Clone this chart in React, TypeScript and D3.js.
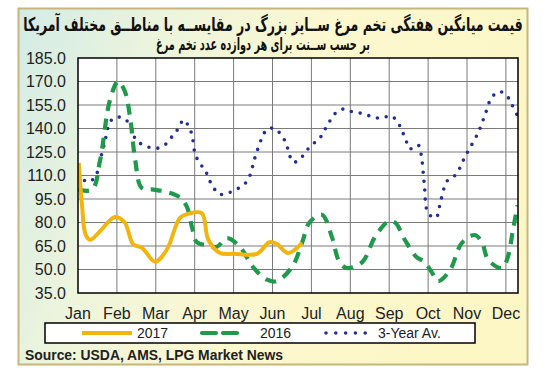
import React, { useLayoutEffect, useRef, useState } from "react";
import * as d3 from "d3";

const W = 545;
const H = 381;

const titleLine1 = "قیمت میانگین هفتگی تخم مرغ ســایز بزرگ در مقایســه با مناطــق مختلف آمریکا";
const titleLine2 = "بر حسب ســنت برای هر دوازده عدد تخم مرغ";
const sourceText = "Source: USDA, AMS, LPG Market News";

const months = ["Jan", "Feb", "Mar", "Apr", "May", "Jun", "Jul", "Aug", "Sep", "Oct", "Nov", "Dec"];
const yTicks = [35, 50, 65, 80, 95, 110, 125, 140, 155, 170, 185];

const seriesNames = ["2017", "2016", "3-Year Av."];

// x = position in months (0 = Jan gridline)
const pos2017 = [0.02, 0.1, 0.2, 0.32, 0.55, 0.95, 1.2, 1.42, 1.64, 1.98, 2.28, 2.62, 2.83, 3.18, 3.35, 3.65, 4.0, 4.6, 4.92, 5.1, 5.4, 5.76];
const val2017 = [118, 92, 72, 69, 74, 83.5, 80, 66, 64, 55, 62.5, 83, 85.5, 86, 69, 60.5, 60, 60, 67.5, 66.5, 60.5, 67];

const pos2016 = [0, 0.36, 0.57, 0.82, 1.03, 1.2, 1.34, 1.47, 1.64, 1.94, 2.28, 2.62, 2.8, 2.93, 3.05, 3.31, 3.57, 3.83, 4.16, 4.5, 4.86, 5.1, 5.5, 5.76, 5.95, 6.27, 6.53, 6.7, 6.9, 7.3, 7.63, 7.97, 8.15, 8.4, 8.7, 8.9, 9.1, 9.25, 9.56, 9.87, 10.2, 10.38, 10.55, 10.9, 11.05, 11.18, 11.3];
const val2016 = [101, 101, 120, 158, 170, 164, 147, 120, 102, 101, 99.5, 96, 90, 77, 67.5, 65.5, 64.5, 70, 64.5, 51.5, 43.5, 42.5, 51.5, 67, 80, 85, 70.5, 56, 51, 54.5, 70.5, 80.5, 80, 69, 58, 55, 48, 42.5, 49.5, 67, 72, 67.5, 56, 51, 58, 75, 91];

const posAvg = [0.03, 0.22, 0.43, 0.57, 0.69, 0.82, 0.95, 1.18, 1.34, 1.5, 1.83, 2.06, 2.28, 2.45, 2.58, 2.71, 2.83, 2.93, 3.0, 3.12, 3.27, 3.35, 3.48, 3.63, 3.87, 4.1, 4.3, 4.42, 4.55, 4.73, 4.86, 5.05, 5.22, 5.35, 5.42, 5.53, 5.71, 5.86, 6.04, 6.22, 6.35, 6.48, 6.63, 6.84, 7.07, 7.33, 7.56, 7.79, 8.05, 8.23, 8.33, 8.43, 8.53, 8.74, 8.82, 8.9, 9.0, 9.2, 9.33, 9.49, 9.67, 9.82, 9.92, 10.05, 10.28, 10.46, 10.64, 10.85, 11.05, 11.16, 11.28];
const valAvg = [111.5, 106, 108.5, 120, 131.5, 144, 147, 146.5, 142, 132.5, 128, 127.5, 130.5, 136, 140, 145.5, 142, 136, 125, 118, 113.5, 108.5, 102.5, 98, 99, 101.5, 105, 110, 121.5, 134, 139.5, 140, 136, 130.5, 124.5, 118.5, 120.5, 125.5, 130, 134, 139.5, 145, 150, 152.5, 150.5, 149.5, 147.5, 146.5, 148, 143.5, 138.5, 132.5, 127, 129.5, 123.5, 105, 86, 83, 94.5, 106.5, 109.5, 115, 120.5, 126.5, 137, 148.5, 160, 163.5, 160, 155, 149];

const plot = { left: 78, right: 518, top: 58, bottom: 293 };
const monthStep = 38.9;

const x = d3.scaleLinear().domain([0, (plot.right - plot.left) / monthStep]).range([plot.left, plot.right]);
const y = d3.scaleLinear().domain([35, 185]).range([plot.bottom, plot.top]);

const line = d3
  .line<[number, number]>()
  .x((d) => x(d[0]))
  .y((d) => y(d[1]))
  .curve(d3.curveCatmullRom.alpha(0.5));

const zip = (a: number[], b: number[]) => a.map((v, i) => [v, b[i]] as [number, number]);

const C2017 = "#f2b50f";
const C2016 = "#1e9a4a";
const CAVG = "#232f96";

const arabicFont = "'DejaVu Sans Condensed', 'DejaVu Sans', sans-serif";

function FitText(props: { text: string; cx: number; y: number; width: number; fontSize: number }) {
  const ref = useRef<SVGTextElement>(null);
  const [sx, setSx] = useState(1);
  useLayoutEffect(() => {
    if (ref.current) {
      const w = ref.current.getBBox().width;
      if (w > 0) setSx(props.width / w);
    }
  }, [props.text, props.width]);
  return (
    <g transform={`translate(${props.cx},${props.y}) scale(${sx},1)`}>
      <text ref={ref} x={0} y={0} textAnchor="middle" fontFamily={arabicFont} fontWeight="bold" fontSize={props.fontSize} direction="rtl" fill="#111">
        {props.text}
      </text>
    </g>
  );
}

export default function App() {
  const sansFont = "'Liberation Sans', Arial, sans-serif";
  return (
    <svg width={W} height={H} style={{ position: "absolute", left: 0, top: 0 }} fontFamily={sansFont}>
      <defs>
        <linearGradient id="bg" x1="0" y1="0" x2="1" y2="0.25">
          <stop offset="0" stopColor="#d3ebe6" />
          <stop offset="0.3" stopColor="#eef5dc" />
          <stop offset="0.6" stopColor="#fcf8cf" />
          <stop offset="1" stopColor="#fdf7c6" />
        </linearGradient>
        <clipPath id="plotClip">
          <rect x={plot.left} y={plot.top} width={plot.right - plot.left} height={plot.bottom - plot.top} />
        </clipPath>
      </defs>
      <rect x={0} y={0} width={W} height={H} fill="#ffffff" />
      <rect x={18.5} y={8.5} width={509} height={356} fill="url(#bg)" stroke="#c8b57a" strokeWidth={2} />

      <FitText text={titleLine1} cx={273} y={31} width={500} fontSize={19} />
      <FitText text={titleLine2} cx={263} y={50} width={214} fontSize={17} />

      <rect x={plot.left} y={plot.top} width={plot.right - plot.left} height={plot.bottom - plot.top} fill="#ffffff" />
      {yTicks.slice(1, -1).map((t) => (
        <line key={"h" + t} x1={plot.left} x2={plot.right} y1={y(t)} y2={y(t)} stroke="#7a7a7a" strokeWidth={1} />
      ))}
      {months.slice(1).map((m, i) => (
        <line key={"v" + m} x1={x(i + 1)} x2={x(i + 1)} y1={plot.top} y2={plot.bottom} stroke="#7a7a7a" strokeWidth={1} />
      ))}

      <g clipPath="url(#plotClip)" fill="none">
        <path d={line(zip(posAvg, valAvg)) || ""} stroke={CAVG} strokeWidth={3.6} strokeLinecap="round" strokeDasharray="0 9" />
        <path d={line(zip(pos2016, val2016)) || ""} stroke={C2016} strokeWidth={4.2} strokeDasharray="11 8" />
        <path d={line(zip(pos2017, val2017)) || ""} stroke={C2017} strokeWidth={4} strokeLinejoin="round" />
      </g>
      <rect x={plot.left} y={plot.top} width={plot.right - plot.left} height={plot.bottom - plot.top} fill="none" stroke="#000" strokeWidth={1.5} />

      {yTicks.map((t) => (
        <text key={"yl" + t} x={66} y={y(t) + 5.5} textAnchor="end" fontSize={16} fill="#222">
          {t.toFixed(1)}
        </text>
      ))}
      {months.map((m, i) => (
        <text key={"xl" + m} x={x(i)} y={319} textAnchor="middle" fontSize={16} fill="#222">
          {m}
        </text>
      ))}

      <rect x={45} y={323} width={430} height={20} fill="#ffffff" stroke="#000" strokeWidth={1.5} />
      <line x1={82} x2={132} y1={333} y2={333} stroke={C2017} strokeWidth={4} />
      <text x={137} y={338} fontSize={14} fill="#222">{seriesNames[0]}</text>
      <line x1={202} x2={243} y1={333} y2={333} stroke={C2016} strokeWidth={4.2} strokeDasharray="14 7" strokeLinecap="round" />
      <text x={260} y={338} fontSize={14} fill="#222">{seriesNames[1]}</text>
      <line x1={326} x2={375} y1={333} y2={333} stroke={CAVG} strokeWidth={3.6} strokeLinecap="round" strokeDasharray="0 9.8" />
      <text x={378} y={338} fontSize={14} fill="#222">{seriesNames[2]}</text>

      <text x={25} y={360} fontSize={14} fontWeight="bold" fill="#222" textLength={258} lengthAdjust="spacingAndGlyphs">
        {sourceText}
      </text>
    </svg>
  );
}
